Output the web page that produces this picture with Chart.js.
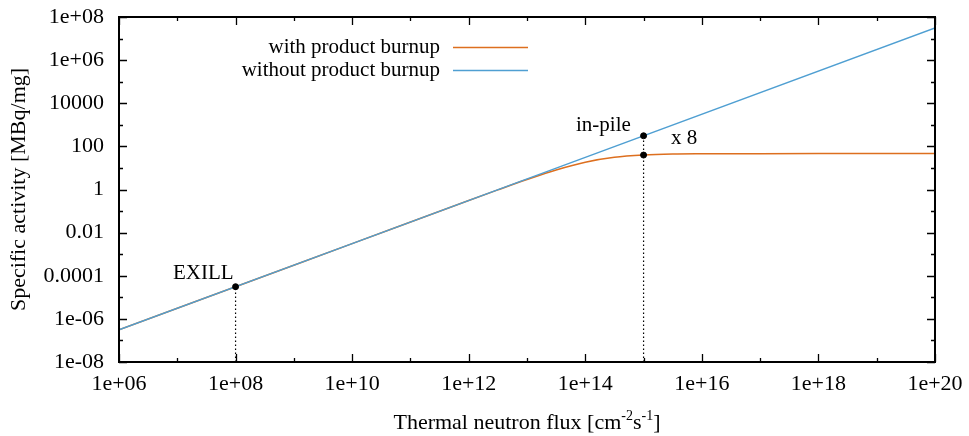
<!DOCTYPE html>
<html>
<head>
<meta charset="utf-8">
<script src="https://cdn.jsdelivr.net/npm/chart.js@4.4.1/dist/chart.umd.min.js"></script>
<style>
  html, body { margin: 0; padding: 0; background: #fff; }
  canvas { display: block; }
</style>
</head>
<body>
<canvas id="activity-chart" width="969" height="436"></canvas>
<script>
// Thermal neutron flux [cm-2 s-1] vs specific activity [MBq/mg]
const fluxWith = [1e6, 1e8, 1e10, 1e12, 3.16e12, 1e13, 3.16e13, 1e14, 3.16e14, 1e15, 3.16e15, 1e16, 1e17, 1e18, 1e20];
const activityWith = [3.1e-7, 3.1e-5, 3.1e-3, 0.31, 0.96, 2.9, 8.1, 18.5, 31, 39.6, 44, 45.3, 46, 46.3, 46.5];
const fluxWithout = [1e6, 1e10, 1e14, 1e20];
const activityWithout = [3.1e-7, 3.1e-3, 31, 3.1e7];

// marked points (EXILL, in-pile with / without burnup)
const markerFlux = [1e8, 1e15, 1e15];
const markerActivity = [3.1e-5, 310, 39.6];
// dotted drop lines down to the x axis
const dropFlux = [1e8, 1e15];
const dropTop = [3.1e-5, 310];

const xTickValues = [1e6, 1e7, 1e8, 1e9, 1e10, 1e11, 1e12, 1e13, 1e14, 1e15, 1e16, 1e17, 1e18, 1e19, 1e20];
const xTickLabels = ['1e+06', '', '1e+08', '', '1e+10', '', '1e+12', '', '1e+14', '', '1e+16', '', '1e+18', '', '1e+20'];
const yTickValues = [1e-8, 1e-7, 1e-6, 1e-5, 1e-4, 1e-3, 1e-2, 1e-1, 1, 10, 100, 1e3, 1e4, 1e5, 1e6, 1e7, 1e8];
const yTickLabels = ['1e-08', '', '1e-06', '', '0.0001', '', '0.01', '', '1', '', '100', '', '10000', '', '1e+06', '', '1e+08'];

const ORANGE = '#dd6f1f';
const BLUE = '#4f9fd2';
const FONT = 'Liberation Serif, Times New Roman, serif';

const toPoints = (xs, ys) => xs.map((x, i) => ({ x: x, y: ys[i] }));

const dropSets = dropFlux.map((x, i) => ({
  data: [{ x: x, y: 1e-8 }, { x: x, y: dropTop[i] }],
  borderColor: '#000',
  borderWidth: 1.2,
  borderDash: [1.5, 2.5],
  pointRadius: 0,
  showLine: true,
  order: 3
}));

const framePlugin = {
  id: 'frame',
  afterDraw(chart) {
    const ctx = chart.ctx;
    const area = chart.chartArea;
    const xs = chart.scales.x;
    const ys = chart.scales.y;
    ctx.save();

    // inward ticks on all four sides
    ctx.strokeStyle = '#000';
    ctx.lineWidth = 1.3;
    ctx.beginPath();
    xTickValues.forEach((v, i) => {
      const px = Math.round(xs.getPixelForValue(v)) + 0.5;
      const len = xTickLabels[i] ? 8 : 4;
      ctx.moveTo(px, area.bottom); ctx.lineTo(px, area.bottom - len);
      ctx.moveTo(px, area.top); ctx.lineTo(px, area.top + len);
    });
    yTickValues.forEach((v, i) => {
      const py = Math.round(ys.getPixelForValue(v)) + 0.5;
      const len = yTickLabels[i] ? 8 : 4;
      ctx.moveTo(area.left, py); ctx.lineTo(area.left + len, py);
      ctx.moveTo(area.right, py); ctx.lineTo(area.right - len, py);
    });
    ctx.stroke();

    // border
    ctx.lineWidth = 2;
    ctx.strokeRect(area.left, area.top, area.right - area.left, area.bottom - area.top);

    // legend
    ctx.font = '21px ' + FONT;
    ctx.fillStyle = '#000';
    ctx.textAlign = 'right';
    ctx.textBaseline = 'middle';
    const legend = [['with product burnup', ORANGE, 47], ['without product burnup', BLUE, 70]];
    legend.forEach(([label, color, y]) => {
      ctx.fillText(label, 440, y);
      ctx.strokeStyle = color;
      ctx.lineWidth = 1.5;
      ctx.beginPath();
      ctx.moveTo(453, y + 0.5); ctx.lineTo(528, y + 0.5);
      ctx.stroke();
    });

    // labels
    ctx.textAlign = 'left';
    ctx.fillText('EXILL', 173, 273);
    ctx.fillText('in-pile', 576, 125);
    ctx.fillText('x 8', 671, 138);

    // x axis title with superscripts
    const parts = [['Thermal neutron flux [cm', false], ['-2', true], ['s', false], ['-1', true], [']', false]];
    const big = '22px ' + FONT, small = '14px ' + FONT;
    let total = 0;
    parts.forEach(([t, sup]) => { ctx.font = sup ? small : big; total += ctx.measureText(t).width; });
    let cx = (area.left + area.right) / 2 - total / 2;
    ctx.textBaseline = 'alphabetic';
    parts.forEach(([t, sup]) => {
      ctx.font = sup ? small : big;
      ctx.fillText(t, cx, sup ? 420 : 429);
      cx += ctx.measureText(t).width;
    });
    ctx.restore();
  }
};

new Chart(document.getElementById('activity-chart'), {
  type: 'scatter',
  data: {
    datasets: [
      {
        label: 'without product burnup',
        data: toPoints(fluxWithout, activityWithout),
        borderColor: BLUE,
        borderWidth: 1.5,
        pointRadius: 0,
        showLine: true,
        order: 1
      },
      {
        label: 'with product burnup',
        data: toPoints(fluxWith, activityWith),
        borderColor: ORANGE,
        borderWidth: 1.5,
        pointRadius: 0,
        showLine: true,
        cubicInterpolationMode: 'monotone',
        order: 2
      },
      ...dropSets,
      {
        data: toPoints(markerFlux, markerActivity),
        backgroundColor: '#000',
        borderColor: '#000',
        pointRadius: 3,
        showLine: false,
        order: 0
      }
    ]
  },
  options: {
    responsive: false,
    animation: false,
    layout: { padding: { top: 17, right: 34, left: 0, bottom: 0 } },
    plugins: { legend: { display: false }, tooltip: { enabled: false } },
    scales: {
      x: {
        type: 'logarithmic',
        min: 1e6,
        max: 1e20,
        grid: { display: false, drawTicks: false },
        border: { display: false },
        afterBuildTicks: (axis) => { axis.ticks = xTickValues.map(v => ({ value: v })); },
        afterFit: (axis) => {
          axis.height = 74;
          axis.paddingLeft = 0;
          axis.paddingRight = 0;
        },
        ticks: {
          autoSkip: false,
          maxRotation: 0,
          padding: 9,
          color: '#000',
          font: { family: FONT, size: 22 },
          callback: (v, i) => xTickLabels[i]
        }
      },
      y: {
        type: 'logarithmic',
        min: 1e-8,
        max: 1e8,
        grid: { display: false, drawTicks: false },
        border: { display: false },
        afterBuildTicks: (axis) => { axis.ticks = yTickValues.map(v => ({ value: v })); },
        afterFit: (axis) => {
          axis.width = 119;
          axis.paddingTop = 0;
          axis.paddingBottom = 0;
        },
        title: {
          display: true,
          text: 'Specific activity [MBq/mg]',
          color: '#000',
          font: { family: FONT, size: 22 },
          padding: { top: 6, bottom: 0 }
        },
        ticks: {
          autoSkip: false,
          padding: 15,
          color: '#000',
          font: { family: FONT, size: 22 },
          callback: (v, i) => yTickLabels[i]
        }
      }
    }
  },
  plugins: [framePlugin]
});
</script>
</body>
</html>
